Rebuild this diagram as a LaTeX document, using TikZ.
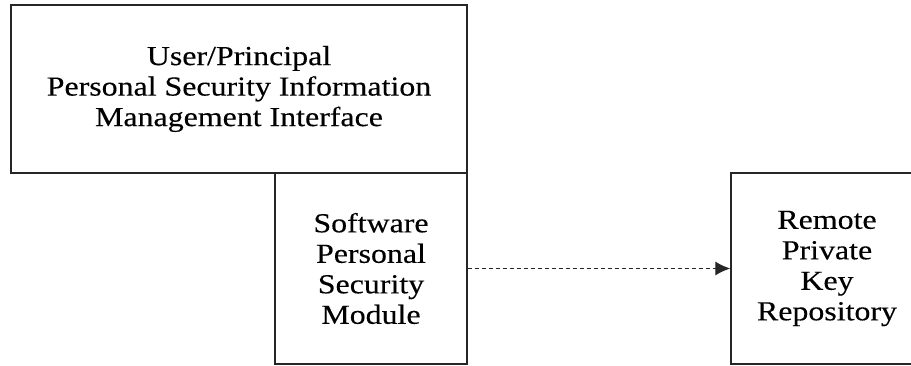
\documentclass[tikz,border=0pt]{standalone}
\usepackage{fontspec}
\setmainfont[FakeStretch=1.16,FakeBold=0.25]{Liberation Serif}
\usetikzlibrary{arrows.meta}
\begin{document}
\begin{tikzpicture}[x=1pt,y=-1pt,
  blockbox/.style={draw=black!85, line width=1.4pt, fill=none, align=center,
    inner sep=0pt, font=\fontsize{27.5}{30.5}\selectfont},
  flow/.style={draw=black!85, line width=1.2pt, dash pattern=on 4.5pt off 2.5pt,
    -{Latex[length=15pt,width=14pt]}}]
  \useasboundingbox (0,0) rectangle (911,366);
  \node[blockbox, minimum width=456pt, minimum height=168pt] (ui) at (239,89)
    {User/Principal\\Personal Security Information\\Management Interface};
  \node[blockbox, minimum width=192pt, minimum height=191pt] (psm) at (371,268.5)
    {Software\\Personal\\Security\\Module};
  \node[blockbox, minimum width=192pt, minimum height=191pt] (repo) at (827,268.5)
    {Remote\\Private\\Key\\Repository};
  \draw[flow] (psm.east) -- (repo.west);
\end{tikzpicture}
\end{document}
